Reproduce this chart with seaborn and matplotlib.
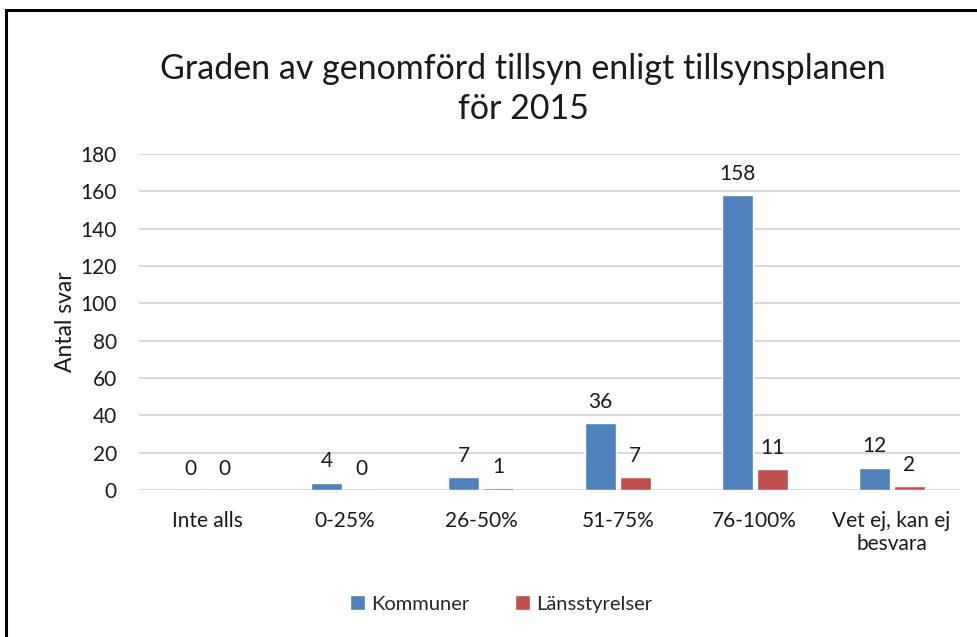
import pandas as pd
import seaborn as sns
import matplotlib.pyplot as plt
from matplotlib.patches import Rectangle, Patch

# Data
categories = ["Inte alls", "0-25%", "26-50%", "51-75%", "76-100%", "Vet ej, kan ej\nbesvara"]
kommuner = [0, 4, 7, 36, 158, 12]
lansstyrelser = [0, 0, 1, 7, 11, 2]
series_names = ["Kommuner", "Länsstyrelser"]
colors = ["#4F81BD", "#C0504D"]

data = pd.DataFrame({
    "Kategori": categories * 2,
    "Antal": kommuner + lansstyrelser,
    "Serie": [series_names[0]] * len(categories) + [series_names[1]] * len(categories),
})

sns.set_style("white")
plt.rcParams["font.family"] = ["Lato", "DejaVu Sans"]

fig = plt.figure(figsize=(9.77, 6.37), dpi=100)
ax = fig.add_axes([139 / 977, 1 - 490 / 637, (960 - 139) / 977, (490 - 154) / 637])

sns.barplot(data=data, x="Kategori", y="Antal", hue="Serie", palette=colors,
            width=0.51, gap=0.11, ax=ax, legend=False, saturation=1)

for c in ax.containers:
    ax.bar_label(c, padding=8, fontsize=15, color="#1a1a1a")

ax.set_ylim(0, 180)
ax.set_yticks(range(0, 181, 20))
ax.set_xlim(-0.5, len(categories) - 0.5)
ax.yaxis.grid(True, color="#D9D9D9", linewidth=1.5)
ax.set_axisbelow(True)
for s in ax.spines.values():
    s.set_visible(False)
ax.tick_params(axis="both", length=0, labelsize=15, colors="#1a1a1a")
ax.tick_params(axis="x", pad=15)
ax.tick_params(axis="y", pad=16)
ax.set_xlabel("")
ax.set_ylabel("Antal svar", fontsize=16.5, color="#1a1a1a", labelpad=3)

fig.text(523 / 977, 1 - 89 / 637, "Graden av genomförd tillsyn enligt tillsynsplanen\nför 2015",
         ha="center", va="center", fontsize=24.5, linespacing=1.3, color="#1a1a1a")

handles = [Patch(facecolor=col, label=n) for col, n in zip(colors, series_names)]
fig.legend(handles=handles, loc="center", bbox_to_anchor=(501 / 977, 1 - 604 / 637),
           ncol=2, frameon=False, fontsize=14.5, handlelength=0.75, handleheight=0.75,
           handletextpad=0.3, columnspacing=2.3)

# Chart border (cut off at right and bottom in the original)
fig.add_artist(Rectangle((6 / 977, -0.2), 1.2, 1.2 - 10 / 637, transform=fig.transFigure,
                         fill=False, edgecolor="black", linewidth=2.2))

fig.savefig("out.png", dpi=100)
